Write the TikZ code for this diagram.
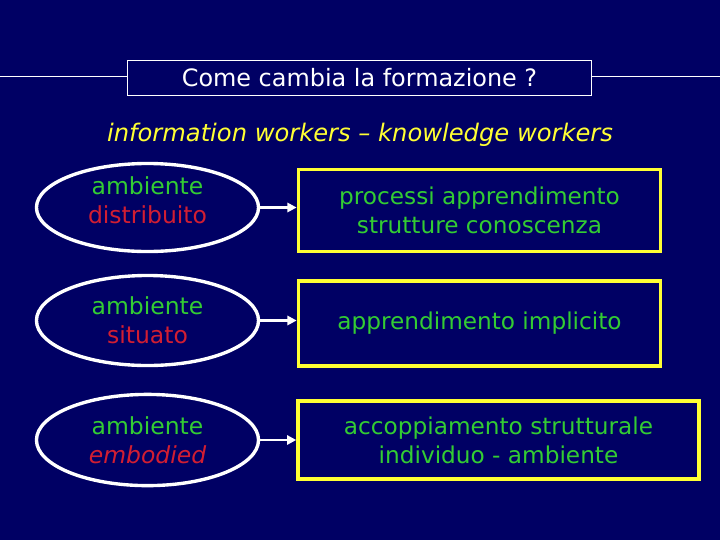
\documentclass[tikz,border=0pt]{standalone}
\usepackage{fontspec}
\setmainfont{DejaVu Sans}
\usetikzlibrary{arrows.meta, shapes.geometric}
\definecolor{navy}{RGB}{0,0,100}
\definecolor{txtgreen}{RGB}{51,204,51}
\definecolor{txtred}{RGB}{210,30,50}
\definecolor{boxyellow}{RGB}{255,255,51}
\tikzset{
    ambito/.style={ellipse, draw=white, line width=2.4pt, fill=navy,
        minimum width=5.55cm, minimum height=2.2cm, inner sep=0pt,
        align=center, font=\fontsize{16.7}{20.5}\selectfont},
    alzato/.style={execute at end node={\rule[-11pt]{0pt}{0pt}}},
    esito/.style={rectangle, draw=boxyellow, line width=2.6pt, fill=navy,
        minimum width=9.05cm, minimum height=2.05cm, align=center,
        text=txtgreen, font=\fontsize{16.5}{20.5}\selectfont},
    freccia/.style={-{Triangle[length=6.5pt, width=6.5pt]}, white, line width=2.1pt},
    cornice/.style={rectangle, draw=white, line width=0.7pt,
        minimum width=11.6cm, minimum height=0.88cm,
        text=white, font=\fontsize{17}{20}\selectfont}
}
\begin{document}
\begin{tikzpicture}[x=0.025cm, y=-0.025cm]
    \fill[navy] (0,0) rectangle (720,540);
    \useasboundingbox (0,0) rectangle (720,540);
    % titolo
    \node[cornice] (titolo) at (359.5,78) {Come cambia la formazione ?};
    \coordinate (sx) at (0,76); \coordinate (dx) at (720,76);
    \draw[white, line width=0.7pt] (sx) -- (sx -| titolo.west);
    \draw[white, line width=0.7pt] (titolo.east |- dx) -- (dx);
    \node[text=boxyellow, font=\fontsize{17.2}{20}\selectfont\itshape] (sottotitolo)
        at (360,135) {information workers – knowledge workers};
    % ambienti
    \node[ambito, alzato] (distr) at (147.5,207.5) {\textcolor{txtgreen}{ambiente}\\\textcolor{txtred}{distribuito}};
    \node[ambito, minimum height=2.25cm] (situ) at (147.5,320.5) {\textcolor{txtgreen}{ambiente}\\\textcolor{txtred}{situato}};
    \node[ambito, minimum height=2.28cm] (embod) at (147.5,440) {\textcolor{txtgreen}{ambiente}\\\textcolor{txtred}{\itshape embodied}};
    % esiti
    \node[esito] (proc) at (479.5,210.5) {processi apprendimento\\strutture conoscenza};
    \node[esito, minimum height=2.12cm] (impl) at (479.5,323.5) {apprendimento implicito};
    \node[esito, minimum width=10.02cm, minimum height=1.95cm] (accop) at (498.5,440) {accoppiamento strutturale\\individuo - ambiente};
    % frecce
    \draw[freccia] (distr.east) -- (distr.east -| proc.west);
    \draw[freccia] (situ.east) -- (situ.east -| impl.west);
    \draw[freccia] (embod.east) -- (embod.east -| accop.west);
\end{tikzpicture}
\end{document}
